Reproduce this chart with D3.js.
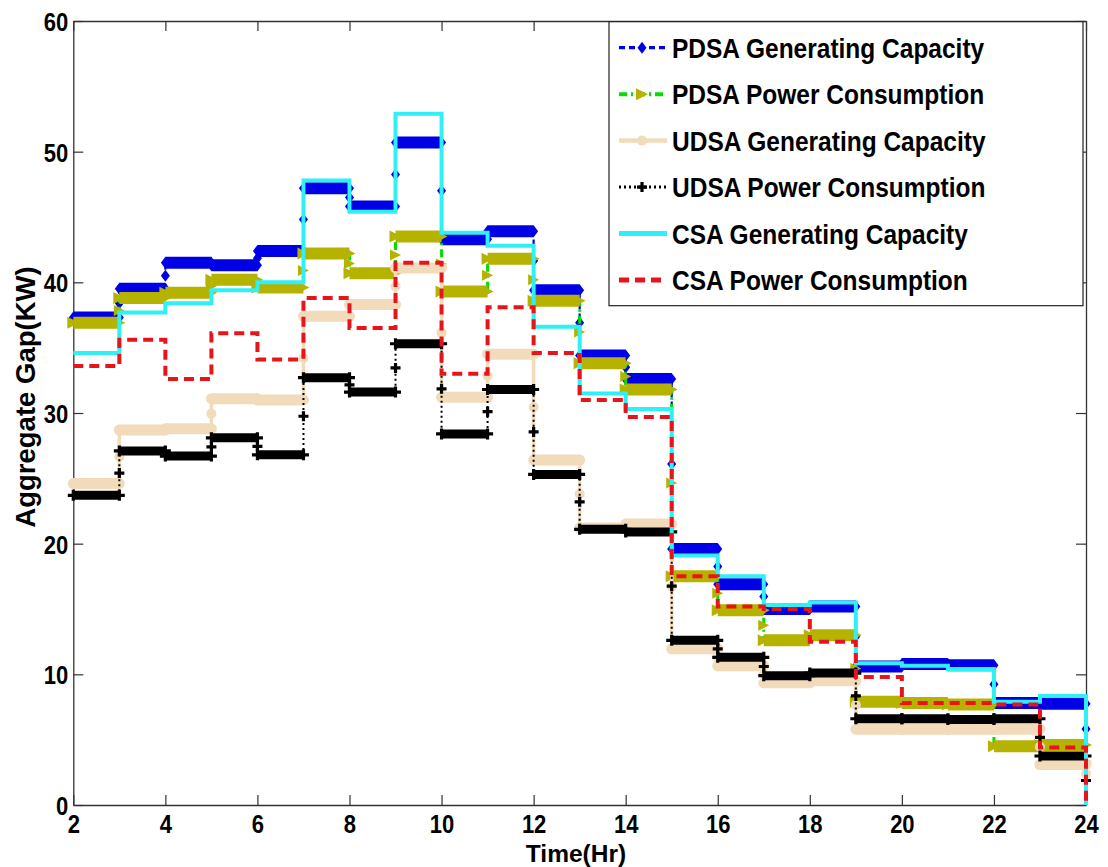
<!DOCTYPE html>
<html>
<head>
<meta charset="utf-8">
<script src="https://cdn.jsdelivr.net/npm/d3@7"></script>
<style>
  body { margin: 0; background: #fff; }
  svg { display: block; background: #fff; }
  text { font-family: "Liberation Sans", Arial, sans-serif; font-weight: bold; fill: #000; }
</style>
</head>
<body>
<svg id="chart" width="1108" height="867"></svg>
<script>
// Hourly aggregate gap (KW); each value holds from its hour until the next one
const hours = [2, 3, 4, 5, 6, 7, 8, 9, 10, 11, 12, 13, 14, 15, 16, 17, 18, 19, 20, 21, 22, 23, 24];

const pdsaGenerating = [37.3, 39.5, 41.5, 41.3, 42.4, 47.2, 45.8, 50.7, 43.3, 43.9, 39.4, 34.4, 32.6, 19.6, 16.9, 15.0, 15.2, 10.6, 10.8, 10.7, 7.8, 7.75, 3.9];
const pdsaConsumption = [36.9, 38.8, 39.2, 40.2, 39.6, 42.2, 40.7, 43.5, 39.3, 41.8, 38.6, 33.8, 31.8, 17.5, 14.9, 12.6, 13.0, 7.9, 7.8, 7.7, 4.5, 4.6, 2.1];
const udsaGenerating = [24.6, 28.7, 28.8, 31.1, 31.0, 37.4, 38.3, 41.1, 31.2, 34.5, 26.4, 21.2, 21.5, 11.95, 10.65, 9.35, 9.5, 5.8, 5.8, 5.8, 5.8, 3.1, 1.7];
const udsaConsumption = [23.7, 27.1, 26.7, 28.1, 26.8, 32.7, 31.6, 35.3, 28.4, 31.8, 25.3, 21.1, 20.9, 12.6, 11.3, 9.9, 10.1, 6.6, 6.6, 6.55, 6.6, 3.75, 0];
const csaGenerating = [34.6, 37.7, 38.4, 39.4, 40.0, 47.8, 45.4, 52.9, 43.8, 42.8, 36.6, 31.5, 30.3, 19.1, 17.5, 15.3, 15.5, 10.85, 10.65, 10.4, 7.9, 8.35, 0];
const csaConsumption = [33.6, 35.6, 32.6, 36.1, 34.1, 38.8, 36.5, 41.5, 33.0, 38.1, 34.6, 31.0, 29.7, 17.5, 15.2, 15.0, 12.5, 9.8, 7.8, 7.8, 7.7, 4.4, 0];

const seriesNames = [
  "PDSA Generating Capacity",
  "PDSA Power Consumption",
  "UDSA Generating Capacity",
  "UDSA Power Consumption",
  "CSA Generating Capacity",
  "CSA Power Consumption"
];

const xTicks = [2, 4, 6, 8, 10, 12, 14, 16, 18, 20, 22, 24];
const yTicks = [0, 10, 20, 30, 40, 50, 60];

// Per-series drawing style
const styles = [
  { values: pdsaGenerating, line: "#0000e6", lw: 2.2, dash: "6,4", band: 12, fill: "#0000e6", marker: "diamond" },
  { values: pdsaConsumption, line: "#00e000", lw: 3, dash: "8,4,2,4", band: 12, fill: "#b5b300", marker: "triangle" },
  { values: udsaGenerating, line: "#f1dbbb", lw: 3.5, dash: null, band: 11, fill: "#f1dbbb", marker: "circle" },
  { values: udsaConsumption, line: "#000000", lw: 2, dash: "2,3", band: 9, fill: "#000000", marker: "plus" },
  { values: csaGenerating, line: "#2ef0f6", lw: 4, dash: null, band: 0, marker: null },
  { values: csaConsumption, line: "#e8141a", lw: 4, dash: "10,6", band: 0, marker: null }
];

const svg = d3.select("#chart");
const x = d3.scaleLinear().domain([2, 24]).range([73.3, 1086]);
const y = d3.scaleLinear().domain([0, 60]).range([805, 21]);

// ---- axes box with inward ticks ----
function styleAxis(g) {
  g.attr("font-size", null).attr("font-family", null);
  g.select(".domain").attr("stroke", "#333").attr("stroke-width", 1.3);
  g.selectAll(".tick line").attr("stroke", "#333").attr("stroke-width", 1.2);
}

const gx = svg.append("g")
  .attr("transform", `translate(0,${y(0)})`)
  .call(d3.axisBottom(x).tickValues(xTicks).tickSizeInner(-10).tickSizeOuter(0).tickFormat(d3.format("d")))
  .call(styleAxis);
gx.selectAll(".tick text")
  .attr("y", null).attr("dy", null)
  .attr("transform", "translate(0,28) scale(1,1.16)")
  .style("font-size", "22px");

svg.append("g")
  .attr("transform", `translate(0,${y(60)})`)
  .call(d3.axisTop(x).tickValues(xTicks).tickSizeInner(-10).tickSizeOuter(0).tickFormat(""))
  .call(styleAxis);

const gy = svg.append("g")
  .attr("transform", `translate(${x(2)},0)`)
  .call(d3.axisLeft(y).tickValues(yTicks).tickSizeInner(-10).tickSizeOuter(0).tickFormat(d3.format("d")))
  .call(styleAxis);
gy.selectAll(".tick text")
  .attr("x", null).attr("dy", null)
  .attr("text-anchor", "end")
  .attr("transform", "translate(-5,9.5) scale(1,1.16)")
  .style("font-size", "22px");

svg.append("g")
  .attr("transform", `translate(${x(24)},0)`)
  .call(d3.axisRight(y).tickValues(yTicks).tickSizeInner(-10).tickSizeOuter(0).tickFormat(""))
  .call(styleAxis);

// axis titles
svg.append("text")
  .attr("x", 576).attr("y", 861.5)
  .attr("text-anchor", "middle")
  .style("font-size", "24.5px")
  .text("Time(Hr)");

svg.append("text")
  .attr("transform", "translate(34.5,397) rotate(-90)")
  .attr("text-anchor", "middle")
  .style("font-size", "27.5px")
  .text("Aggregate Gap(KW)");

// ---- marker shapes ----
function drawMarker(g, type, cx, cy, s, color) {
  if (type === "diamond") {
    const w = s * 0.75, h = s;
    g.append("path").attr("d", `M${cx},${cy - h}L${cx + w},${cy}L${cx},${cy + h}L${cx - w},${cy}Z`).attr("fill", color);
  } else if (type === "triangle") {
    g.append("path").attr("d", `M${cx - s},${cy - s}L${cx + s},${cy}L${cx - s},${cy + s}Z`).attr("fill", color);
  } else if (type === "circle") {
    g.append("circle").attr("cx", cx).attr("cy", cy).attr("r", s).attr("fill", color);
  } else if (type === "plus") {
    g.append("path").attr("d", `M${cx - s},${cy}H${cx + s}M${cx},${cy - s}V${cy + s}`)
      .attr("stroke", color).attr("stroke-width", 3.2).attr("fill", "none");
  }
}

const stepLine = d3.line()
  .x((d, i) => x(hours[i]))
  .y(d => y(d))
  .curve(d3.curveStepAfter);

const plot = svg.append("g");

styles.forEach(st => {
  const g = plot.append("g");
  // stair line (carries the vertical transitions)
  g.append("path")
    .attr("d", stepLine(st.values))
    .attr("fill", "none")
    .attr("stroke", st.line)
    .attr("stroke-width", st.lw)
    .attr("stroke-dasharray", st.dash)
    .attr("stroke-linejoin", "miter");

  if (st.band > 0) {
    const markColor = st.fill;
    // dense-marker bands along each hourly level
    for (let i = 0; i < hours.length - 1; i++) {
      const x0 = x(hours[i]), x1 = x(hours[i + 1]), yy = y(st.values[i]);
      g.append("line")
        .attr("x1", x0).attr("x2", x1).attr("y1", yy).attr("y2", yy)
        .attr("stroke", markColor).attr("stroke-width", st.band);
      const s = st.marker === "plus" ? 5.5 : st.band / 2;
      drawMarker(g, st.marker, x0, yy, s, markColor);
      drawMarker(g, st.marker, x1, yy, s, markColor);
    }
    // markers on the vertical transitions
    for (let i = 1; i < hours.length; i++) {
      const a = st.values[i - 1], b = st.values[i];
      if (Math.abs(a - b) > 0.9) {
        const s = st.marker === "diamond" ? 6 : st.marker === "triangle" ? 5.5 : 5;
        drawMarker(g, st.marker, x(hours[i]), y((a + b) / 2), s, markColor);
      }
    }
  }
});

// ---- legend ----
const legend = svg.append("g");
legend.append("rect")
  .attr("x", 609).attr("y", 21.7).attr("width", 474).attr("height", 284)
  .attr("fill", "#fff").attr("stroke", "#222").attr("stroke-width", 1.2);

seriesNames.forEach((name, i) => {
  const st = styles[i];
  const base = 57.7 + i * 46.46;
  const ly = base - 10;
  const lg = legend.append("g");
  lg.append("line")
    .attr("x1", 619).attr("x2", 667).attr("y1", ly).attr("y2", ly)
    .attr("stroke", st.line)
    .attr("stroke-width", st.lw + 1)
    .attr("stroke-dasharray", st.dash);
  if (st.marker) {
    const s = st.marker === "diamond" ? 6 : st.marker === "triangle" ? 6 : st.marker === "circle" ? 5 : 5;
    drawMarker(lg, st.marker, 642, ly, s, st.fill);
  }
  lg.append("text")
    .attr("transform", `translate(672,${base}) scale(1,1.1)`)
    .style("font-size", "24.5px")
    .text(name);
});
</script>
</body>
</html>
